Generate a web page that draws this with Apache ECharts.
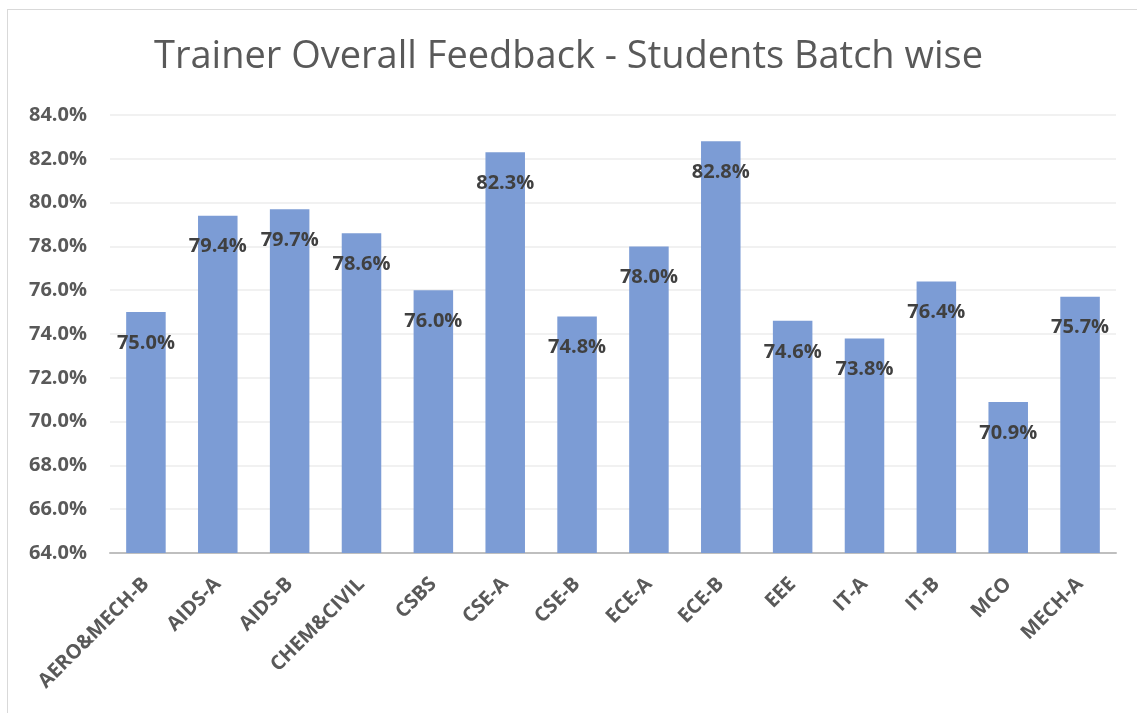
<!DOCTYPE html>
<html>
<head>
<meta charset="utf-8">
<script src="https://cdn.jsdelivr.net/npm/echarts@6/dist/echarts.min.js"></script>
<style>
html, body { margin: 0; padding: 0; background: #fff; }
#chart { width: 1137px; height: 713px; }
.frame { position: absolute; left: 7px; top: 9px; width: 1140px; height: 720px; border: 1px solid #d9d9d9; pointer-events: none; }
</style>
</head>
<body>
<div id="chart"></div>
<div class="frame"></div>
<script>
var categories = ['AERO&MECH-B', 'AIDS-A', 'AIDS-B', 'CHEM&CIVIL', 'CSBS', 'CSE-A', 'CSE-B',
  'ECE-A', 'ECE-B', 'EEE', 'IT-A', 'IT-B', 'MCO', 'MECH-A'];
var feedback = [75.0, 79.4, 79.7, 78.6, 76.0, 82.3, 74.8, 78.0, 82.8, 74.6, 73.8, 76.4, 70.9, 75.7];

var chart = echarts.init(document.getElementById('chart'));
chart.setOption({
  animation: false,
  title: {
    text: 'Trainer Overall Feedback - Students Batch wise',
    left: 'center',
    top: 33,
    textStyle: { fontFamily: 'Open Sans', fontSize: 38, fontWeight: 'normal', color: '#595959' }
  },
  grid: { left: 110, right: 21, top: 115, bottom: 160 },
  xAxis: {
    type: 'category',
    data: categories,
    axisTick: { show: false },
    axisLine: { lineStyle: { color: '#bfbfbf', width: 2 } },
    axisLabel: {
      interval: 0,
      rotate: 45,
      margin: 28,
      color: '#595959',
      fontFamily: 'Open Sans',
      fontWeight: 'bold',
      fontSize: 20
    }
  },
  yAxis: {
    type: 'value',
    min: 64,
    max: 84,
    interval: 2,
    axisLine: { show: false },
    axisTick: { show: false },
    splitLine: { lineStyle: { color: '#ececec', width: 1.5 } },
    axisLabel: {
      margin: 23,
      color: '#595959',
      fontFamily: 'Open Sans',
      fontWeight: 'bold',
      fontSize: 20,
      formatter: function (v) { return v.toFixed(1) + '%'; }
    }
  },
  series: [{
    type: 'bar',
    data: feedback,
    barCategoryGap: '45%',
    itemStyle: { color: '#7c9cd5' },
    label: {
      show: true,
      position: 'insideTop',
      distance: 21,
      color: '#404040',
      fontFamily: 'Open Sans',
      fontWeight: 'bold',
      fontSize: 20,
      formatter: function (p) { return p.value.toFixed(1) + '%'; }
    }
  }]
});
</script>
</body>
</html>
